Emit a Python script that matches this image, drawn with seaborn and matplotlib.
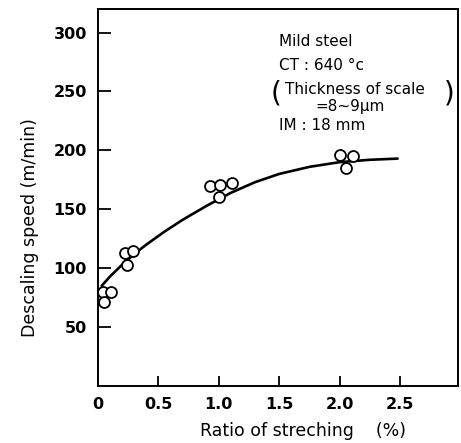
import numpy as np
import pandas as pd
import seaborn as sns
import matplotlib.pyplot as plt

# measured points (ratio of stretching %, descaling speed m/min)
ratio = [0.04, 0.11, 0.05, 0.22, 0.29, 0.24, 0.93, 1.01, 1.11, 1.00, 2.00, 2.11, 2.05]
speed = [80, 80, 71, 113, 115, 103, 170, 171, 172, 160, 196, 195, 185]

# trend curve
curve_x = [0.03, 0.10, 0.20, 0.30, 0.40, 0.55, 0.70, 0.90, 1.10, 1.30, 1.50, 1.75, 2.00, 2.25, 2.48]
curve_y = [85, 93, 103, 112, 120, 131, 141, 153, 164, 173, 180, 186, 190, 192, 193]

x_ticks = [0, 0.5, 1.0, 1.5, 2.0, 2.5]
x_tick_labels = ["0", "0.5", "1.0", "1.5", "2.0", "2.5"]
y_ticks = [50, 100, 150, 200, 250, 300]

pts = pd.DataFrame({"ratio": ratio, "speed": speed})
crv = pd.DataFrame({"ratio": curve_x, "speed": curve_y})

sns.set_style("ticks")
plt.rcParams["font.family"] = ["DejaVu Sans"]
plt.rcParams.update({"text.color": "black", "axes.labelcolor": "black",
                     "xtick.color": "black", "ytick.color": "black"})

fig = plt.figure(figsize=(4.61, 4.43), dpi=100)
ax = fig.add_axes([0.2126, 0.1287, 0.7809, 0.8510])

sns.lineplot(data=crv, x="ratio", y="speed", color="black", linewidth=1.9, ax=ax, zorder=2)
sns.scatterplot(data=pts, x="ratio", y="speed", s=62, facecolor="white",
                edgecolor="black", linewidth=1.3, ax=ax, zorder=3)

ax.set_xlim(0, 2.98)
ax.set_ylim(0, 320)
ax.set_xticks(x_ticks)
ax.set_xticklabels(x_tick_labels)
ax.set_yticks(y_ticks)
ax.tick_params(direction="in", width=1.3, labelsize=11.5, pad=8)
ax.tick_params(axis="y", length=9)
ax.tick_params(axis="x", length=7)
for lab in ax.get_xticklabels() + ax.get_yticklabels():
    lab.set_fontweight("bold")
for sp in ax.spines.values():
    sp.set_linewidth(1.4)
    sp.set_color("black")

ax.set_xlabel("Ratio of streching    (%)", fontsize=12.5)
ax.set_ylabel("Descaling speed (m/min)", fontsize=12.5)
ax.yaxis.set_label_coords(-0.165, 0.42)
ax.xaxis.set_label_coords(0.57, -0.095)

fs = 11
ax.text(1.50, 292, "Mild steel", fontsize=fs, va="center")
ax.text(1.50, 272, "CT : 640 °c", fontsize=fs, va="center")
ax.text(1.55, 252, "Thickness of scale", fontsize=fs, va="center")
ax.text(1.80, 237, "=8~9μm", fontsize=fs, va="center")
ax.text(1.43, 248, "(", fontsize=20, va="center")
ax.text(2.86, 248, ")", fontsize=20, va="center")
ax.text(1.50, 221, "IM : 18 mm", fontsize=fs, va="center")

fig.savefig("out.png", dpi=100)
